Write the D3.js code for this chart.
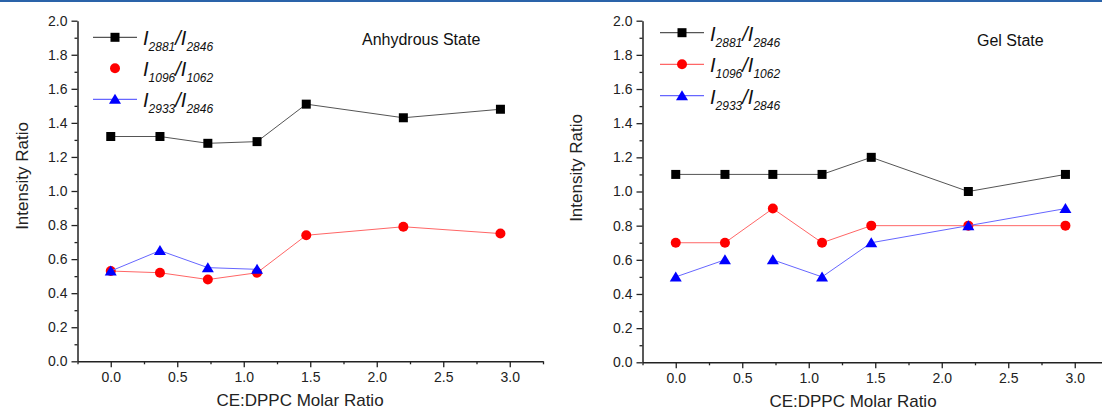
<!DOCTYPE html>
<html>
<head>
<meta charset="utf-8">
<script src="https://cdn.jsdelivr.net/npm/d3@7"></script>
<style>
  body { margin: 0; background: #fff; }
  svg { display: block; font-family: Arial, "Liberation Sans", sans-serif; }
</style>
</head>
<body>
<div id="chart"></div>
<script>
// data
var molarRatio = [0, 0.37, 0.73, 1.10, 1.47, 2.20, 2.93];

var anhydrous2881 = [1.32, 1.32, 1.28, 1.29, 1.51, 1.43, 1.48];
var anhydrous1096 = [0.53, 0.52, 0.48, 0.52, 0.74, 0.79, 0.75];
var anhydrous2933 = [0.53, 0.65, 0.55, 0.54];

var gel2881 = [1.10, 1.10, 1.10, 1.10, 1.20, 1.00, 1.10];
var gel1096 = [0.70, 0.70, 0.90, 0.70, 0.80, 0.80, 0.80];
var gel2933 = [0.50, 0.60, 0.60, 0.50, 0.70, 0.80, 0.90];
var gel2933Gaps = [1];   // no line drawn after this point index

var xMajor = [0, 0.5, 1.0, 1.5, 2.0, 2.5, 3.0];
var xMinor = [-0.25, 0.25, 0.75, 1.25, 1.75, 2.25, 2.75, 3.25];
var yMajor = [0, 0.2, 0.4, 0.6, 0.8, 1.0, 1.2, 1.4, 1.6, 1.8, 2.0];
var yMinor = [0.1, 0.3, 0.5, 0.7, 0.9, 1.1, 1.3, 1.5, 1.7, 1.9];

var legendNames = [["2881", "2846"], ["1096", "1062"], ["2933", "2846"]];

var svgWidth = 1102;
var svgHeight = 411;

var svg = d3.select("#chart")
            .append("svg")
            .attr("width", svgWidth)
            .attr("height", svgHeight);

// blue page rule at the top
svg.append("rect")
   .attr("x", 0).attr("y", 0)
   .attr("width", svgWidth).attr("height", 2)
   .attr("fill", "#2a63a9");

var panels = [
  {
    x0: 77.5, x1: 543, y0: 361.3, y1: 20.7,
    title: "Anhydrous State", titleX: 362, titleY: 45,
    ylabX: 22, ylabY: 176, xlabX: 300,
    legX: 93, legY: [37.3, 68.3, 99.3], legLines: [true, false, true],
    series: [
      {vals: anhydrous2881, color: "#000", line: "#555", shape: "square", gaps: []},
      {vals: anhydrous1096, color: "#f00", line: "#f66", shape: "circle", gaps: []},
      {vals: anhydrous2933, color: "#00f", line: "#66f", shape: "triangle", gaps: []}
    ]
  },
  {
    x0: 642.5, x1: 1108, y0: 362.3, y1: 20.7,
    title: "Gel State", titleX: 977, titleY: 46,
    ylabX: 576, ylabY: 168, xlabX: 853,
    legX: 660, legY: [32.7, 64.3, 95.7], legLines: [true, true, true],
    series: [
      {vals: gel2881, color: "#000", line: "#555", shape: "square", gaps: []},
      {vals: gel1096, color: "#f00", line: "#f66", shape: "circle", gaps: []},
      {vals: gel2933, color: "#00f", line: "#66f", shape: "triangle", gaps: gel2933Gaps}
    ]
  }
];

function drawMarker(g, shape, color, cx, cy) {
  if (shape == "square") {
    g.append("rect")
     .attr("x", cx - 4.5).attr("y", cy - 4.5)
     .attr("width", 9).attr("height", 9)
     .attr("fill", color);
  } else if (shape == "circle") {
    g.append("circle")
     .attr("cx", cx).attr("cy", cy).attr("r", 5)
     .attr("fill", color);
  } else {
    g.append("path")
     .attr("d", `M${cx},${cy - 5.5}L${cx + 6},${cy + 4.5}L${cx - 6},${cy + 4.5}Z`)
     .attr("fill", color);
  }
}

panels.forEach(function(p) {
  var xScale = d3.scaleLinear().domain([-0.25, 3.25]).range([p.x0, p.x1]);
  var yScale = d3.scaleLinear().domain([0, 2]).range([p.y0, p.y1]);

  var g = svg.append("g");

  // minor ticks first
  g.append("g")
   .attr("transform", `translate(0, ${p.y0})`)
   .call(d3.axisBottom(xScale).tickValues(xMinor).tickSize(3).tickSizeOuter(0).tickFormat(""))
   .call(a => a.select(".domain").remove());
  g.append("g")
   .attr("transform", `translate(${p.x0}, 0)`)
   .call(d3.axisLeft(yScale).tickValues(yMinor).tickSize(3).tickSizeOuter(0).tickFormat(""))
   .call(a => a.select(".domain").remove());

  var xAxis = g.append("g")
   .attr("transform", `translate(0, ${p.y0})`)
   .call(d3.axisBottom(xScale).tickValues(xMajor).tickSize(6).tickSizeOuter(0).tickPadding(5).tickFormat(d3.format(".1f")));
  var yAxis = g.append("g")
   .attr("transform", `translate(${p.x0}, 0)`)
   .call(d3.axisLeft(yScale).tickValues(yMajor).tickSize(6).tickSizeOuter(0).tickPadding(4).tickFormat(d3.format(".1f")));

  g.selectAll(".tick text").attr("font-size", 14).attr("fill", "#222")
   .attr("font-family", "Arial, 'Liberation Sans', sans-serif");
  g.selectAll(".tick line").attr("stroke", "#222").attr("stroke-width", 1.3);
  g.selectAll(".domain").attr("stroke", "#222").attr("stroke-width", 1.5);

  // axis titles
  g.append("text")
   .attr("x", p.xlabX).attr("y", p.y0 + 45)
   .attr("text-anchor", "middle")
   .attr("font-size", 17).attr("fill", "#222")
   .text("CE:DPPC Molar Ratio");
  g.append("text")
   .attr("transform", `translate(${p.ylabX}, ${p.ylabY}) rotate(-90)`)
   .attr("text-anchor", "middle")
   .attr("dy", "0.35em")
   .attr("font-size", 17).attr("fill", "#222")
   .text("Intensity Ratio");

  g.append("text")
   .attr("x", p.titleX).attr("y", p.titleY)
   .attr("font-size", 16).attr("fill", "#111")
   .text(p.title);

  // series
  p.series.forEach(function(s) {
    var pts = s.vals.map((v, i) => [xScale(molarRatio[i]), yScale(v)]);
    for (var i = 0; i < pts.length - 1; i++) {
      if (s.gaps.indexOf(i) >= 0) continue;
      g.append("line")
       .attr("x1", pts[i][0]).attr("y1", pts[i][1])
       .attr("x2", pts[i + 1][0]).attr("y2", pts[i + 1][1])
       .attr("stroke", s.line).attr("stroke-width", 1);
    }
    pts.forEach(pt => drawMarker(g, s.shape, s.color, pt[0], pt[1]));
  });

  // legend
  p.series.forEach(function(s, i) {
    var ly = p.legY[i];
    if (p.legLines[i]) {
      g.append("line")
       .attr("x1", p.legX).attr("x2", p.legX + 44)
       .attr("y1", ly).attr("y2", ly)
       .attr("stroke", s.line).attr("stroke-width", 1.2);
    }
    drawMarker(g, s.shape, s.color, p.legX + 22, ly);

    var t = g.append("text")
             .attr("x", p.legX + 50).attr("y", ly + 8)
             .attr("font-style", "italic").attr("fill", "#111");
    t.append("tspan").attr("font-size", 20).text("I");
    t.append("tspan").attr("font-size", 12).attr("dy", 6).text(legendNames[i][0]);
    t.append("tspan").attr("font-size", 20).attr("dy", -6).text("/I");
    t.append("tspan").attr("font-size", 12).attr("dy", 6).text(legendNames[i][1]);
  });
});
</script>
</body>
</html>
